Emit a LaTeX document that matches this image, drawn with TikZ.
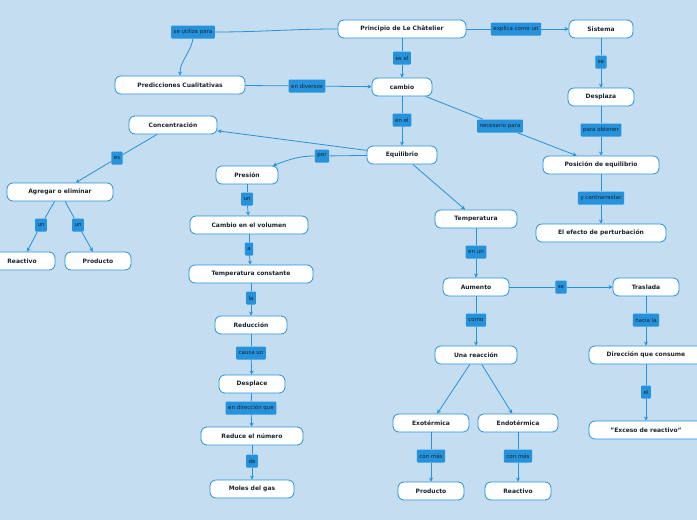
\documentclass[tikz,border=0pt]{standalone}
\usepackage{fontspec}
\setmainfont{DejaVu Sans}
\usetikzlibrary{arrows.meta}
\definecolor{bg}{HTML}{C4DDF0}
\definecolor{bl}{HTML}{2592DB}
\definecolor{tx}{HTML}{1A2530}
\begin{document}
\begin{tikzpicture}[x=1pt,y=-1pt,
 n/.style={draw=bl,fill=white,rounded corners=6pt,line width=0.8pt,minimum height=18pt,inner sep=0pt,font=\bfseries\fontsize{6}{7}\selectfont,text=tx},
 l/.style={fill=bl,rounded corners=1pt,inner sep=2.5pt,minimum height=13pt,font=\fontsize{5.5}{6}\selectfont,text=tx},
 c/.style={draw=bl,line width=0.8pt},
 a/.style={c,-{Stealth[length=4pt,width=4pt]}}]
\fill[bg] (0,0) rectangle (697,520);
\useasboundingbox (0,0) rectangle (697,520);
\node[n,minimum width=128pt] (pr) at (402,29) {Principio de Le Châtelier};
\node[n,minimum width=64pt] (si) at (601,29) {Sistema};
\node[n,minimum width=130pt] (pc) at (180,85) {Predicciones Cualitativas};
\node[n,minimum width=60pt] (ca) at (402,87) {cambio};
\node[n,minimum width=88pt] (co) at (173,125) {Concentración};
\node[n,minimum width=70pt] (eq) at (402,155) {Equilibrio};
\node[n,minimum width=66pt] (de) at (601,97) {Desplaza};
\node[n,minimum width=116pt] (po) at (601,165) {Posición de equilibrio};
\node[n,minimum width=130pt] (ef) at (601,233) {El efecto de perturbación};
\node[n,minimum width=106pt] (ag) at (60,192) {Agregar o eliminar};
\node[n,minimum width=66pt] (r1) at (22,261) {Reactivo};
\node[n,minimum width=66pt] (p1) at (98,261) {Producto};
\node[n,minimum width=62pt] (pe) at (247,175) {Presión};
\node[n,minimum width=118pt] (cv) at (249,225) {Cambio en el volumen};
\node[n,minimum width=124pt] (tc) at (251,274) {Temperatura constante};
\node[n,minimum width=72pt] (rd) at (251,325) {Reducción};
\node[n,minimum width=66pt] (ds) at (252,384) {Desplace};
\node[n,minimum width=102pt] (rn) at (252,436) {Reduce el número};
\node[n,minimum width=84pt] (mg) at (252,489) {Moles del gas};
\node[n,minimum width=82pt] (te) at (476,219) {Temperatura};
\node[n,minimum width=66pt] (au) at (476,287) {Aumento};
\node[n,minimum width=66pt] (tr) at (646,287) {Traslada};
\node[n,minimum width=82pt] (ur) at (476,355) {Una reacción};
\node[n,minimum width=114pt] (dc) at (646,355) {Dirección que consume};
\node[n,minimum width=114pt] (er) at (646,430) {"Exceso de reactivo"};
\node[n,minimum width=76pt] (ex) at (431,423) {Exotérmica};
\node[n,minimum width=80pt] (en) at (518,423) {Endotérmica};
\node[n,minimum width=66pt] (p2) at (431,491) {Producto};
\node[n,minimum width=66pt] (r2) at (518,491) {Reactivo};
% labels
\node[l] (l1) at (193,32) {se utiliza para};
\node[l] (l2) at (516,29) {explica como un};
\node[l] (l3) at (402,58) {es el};
\node[l] (l4) at (307,86) {en diversos};
\node[l] (l5) at (402,120) {en el};
\node[l] (l6) at (500,126) {necesario para};
\node[l] (l7) at (601,62) {se};
\node[l] (l8) at (601,130) {para obtener};
\node[l] (l9) at (601,198) {y contrarrestar};
\node[l] (l10) at (117,158) {es};
\node[l] (l11) at (322,156) {por};
\node[l] (l12) at (41,225) {un};
\node[l] (l13) at (78,225) {un};
\node[l] (l14) at (247,199) {un};
\node[l] (l15) at (249,249) {a};
\node[l] (l16) at (251,298) {la};
\node[l] (l17) at (251,353) {causa un};
\node[l] (l18) at (251,408) {en dirección que};
\node[l] (l19) at (252,461) {de};
\node[l] (l20) at (476,252) {en un};
\node[l] (l21) at (476,320) {como};
\node[l] (l22) at (561,287) {se};
\node[l] (l23) at (646,320) {hacia la};
\node[l] (l24) at (646,392) {el};
\node[l] (l25) at (431,456) {con más};
\node[l] (l26) at (518,456) {con más};
% connectors
\draw[c] (pr.west) to[out=180,in=0] (l1.east);
\draw[a] (l1.south) to[out=-100,in=90] (pc.north);
\draw[c] (pr) -- (l2); \draw[a] (l2) -- (si);
\draw[c] (pr) -- (l3); \draw[a] (l3) -- (ca);
\draw[c] (pc) -- (l4); \draw[a] (l4) -- (ca);
\draw[c] (ca) -- (l5); \draw[a] (l5) -- (eq);
\draw[c] (ca) -- (l6); \draw[a] (l6) -- (po);
\draw[c] (si) -- (l7); \draw[a] (l7) -- (de);
\draw[c] (de) -- (l8); \draw[a] (l8) -- (po);
\draw[c] (po) -- (l9); \draw[a] (l9) -- (ef);
\draw[a] (eq) -- (co);
\draw[c] (co) -- (l10); \draw[a] (l10) -- (ag);
\draw[c] (ag) -- (l12); \draw[a] (l12) -- (r1);
\draw[c] (ag) -- (l13); \draw[a] (l13) -- (p1);
\draw[c] (eq) -- (l11); \draw[a] (l11) to[out=180,in=20] (pe);
\draw[c] (pe) -- (l14); \draw[a] (l14) -- (cv);
\draw[c] (cv) -- (l15); \draw[a] (l15) -- (tc);
\draw[c] (tc) -- (l16); \draw[a] (l16) -- (rd);
\draw[c] (rd) -- (l17); \draw[a] (l17) -- (ds);
\draw[c] (ds) -- (l18); \draw[a] (l18) -- (rn);
\draw[c] (rn) -- (l19); \draw[a] (l19) -- (mg);
\draw[a] (eq) -- (te);
\draw[c] (te) -- (l20); \draw[a] (l20) -- (au);
\draw[c] (au) -- (l21); \draw[a] (l21) -- (ur);
\draw[c] (au) -- (l22); \draw[a] (l22) -- (tr);
\draw[c] (tr) -- (l23); \draw[a] (l23) -- (dc);
\draw[c] (dc) -- (l24); \draw[a] (l24) -- (er);
\draw[a] (ur) -- (ex);
\draw[a] (ur) -- (en);
\draw[c] (ex) -- (l25); \draw[a] (l25) -- (p2);
\draw[c] (en) -- (l26); \draw[a] (l26) -- (r2);
\end{tikzpicture}
\end{document}
